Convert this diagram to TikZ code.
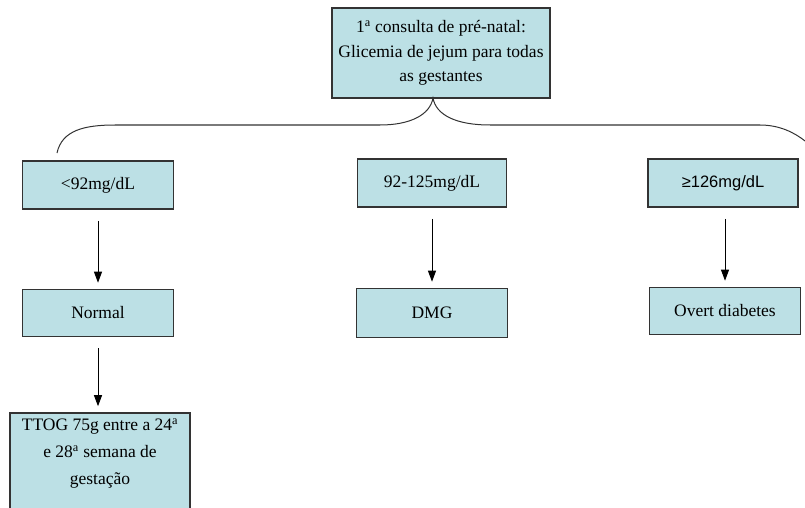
\documentclass[tikz,border=0pt]{standalone}
\usepackage{fontspec}
\setmainfont{Liberation Serif}
\newfontfamily\arialfont{Liberation Sans}
\usetikzlibrary{arrows.meta}
\definecolor{boxfill}{HTML}{BCE0E5}
\definecolor{boxline}{HTML}{333333}
\tikzset{
  stage/.style={draw=boxline, line width=1.6pt, fill=boxfill, align=center,
    inner sep=2pt, font=\fontsize{17.5}{24.5}\selectfont},
  flow/.style={-{Triangle[length=11pt,width=8pt]}, line width=0.9pt, shorten <=11pt, shorten >=6pt}
}
\begin{document}
\begin{tikzpicture}[x=1pt, y=-1pt]
  \useasboundingbox (0,0) rectangle (805,508);
  % first visit
  \node[stage, minimum width=218pt, minimum height=90pt] (first) at (441,53)
    {1\textsuperscript{a} consulta de pré-natal:\\Glicemia de jejum para todas\\as gestantes};
  % fasting glucose ranges
  \node[stage, minimum width=151pt, minimum height=48pt] (low)  at (98,185) {<92mg/dL};
  \node[stage, minimum width=149pt, minimum height=48pt] (mid)  at (432,183) {92-125mg/dL};
  \node[stage, minimum width=150pt, minimum height=48pt, font=\arialfont\fontsize{16.5}{19}\selectfont] (high) at (723,183) {≥126mg/dL};
  % diagnosis
  \node[stage, minimum width=151pt, minimum height=47pt] (normal) at (98,313) {Normal};
  \node[stage, minimum width=151pt, minimum height=49pt] (dmg)    at (432,313) {DMG};
  \node[stage, minimum width=151pt, minimum height=47pt] (overt)  at (725,311) {Overt diabetes};
  \node[stage, minimum width=180pt, minimum height=100pt, font=\fontsize{17.5}{27}\selectfont] (ttog) at (100,463)
    {TTOG 75g entre a 24\textsuperscript{a}\\e 28\textsuperscript{a} semana de\\gestação\\[-12pt]\strut};
  % brace under the first box
  \coordinate (cusp) at (433,98);
  \coordinate (braceL) at (57,153);
  \coordinate (braceR) at (805,141);
  \draw[line width=1pt, boxline] (braceL) .. controls (62,130) and (85,125) .. (115,125)
    -- (380,125) .. controls (410,125) and (430,115) .. (cusp)
    .. controls (436,115) and (456,125) .. (490,125)
    -- (760,125) .. controls (780,125) and (795,133) .. (braceR);
  % arrows
  \draw[flow] (low) -- (normal);
  \draw[flow] (mid) -- (dmg);
  \draw[flow] (high.south -| overt) -- (overt);
  \draw[flow] (normal) -- (ttog.north -| normal);
\end{tikzpicture}
\end{document}
